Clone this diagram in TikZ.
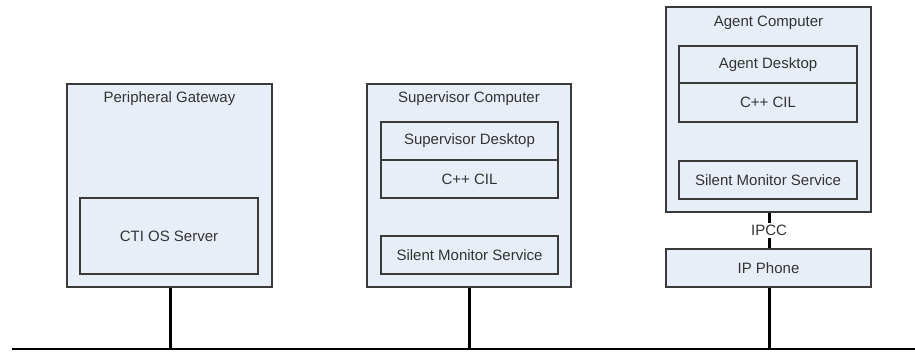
\documentclass[tikz,border=0pt]{standalone}
\usepackage{fontspec}
\setmainfont{Liberation Sans}
\definecolor{boxfill}{HTML}{E8EEF7}
\definecolor{boxline}{HTML}{3A3A3A}
\definecolor{txt}{HTML}{333333}
\begin{document}
\begin{tikzpicture}[x=1pt,y=-1pt,
  box/.style={draw=boxline,fill=boxfill,line width=1.2pt,inner sep=0pt,
    text=txt,font=\fontsize{15}{17}\selectfont},
  lbl/.style={text=txt,font=\fontsize{15}{17}\selectfont,inner sep=1pt},
  wire/.style={line width=3pt,black},
  bus/.style={line width=2pt,black}]
\useasboundingbox (0,0) rectangle (915,351);
% Peripheral Gateway
\node[box,minimum width=205pt,minimum height=203pt] (pg) at (169.5,185.5) {};
\node[lbl] (pgt) at (169.5,99) {Peripheral Gateway};
\node[box,minimum width=178pt,minimum height=76pt] (cti) at (169,236) {CTI OS Server};
% Supervisor Computer
\node[box,minimum width=204pt,minimum height=203pt] (sc) at (469,185.5) {};
\node[lbl] (sct) at (469,99) {Supervisor Computer};
\node[box,minimum width=177pt,minimum height=38pt] (sd) at (469.5,141) {Supervisor Desktop};
\node[box,minimum width=177pt,minimum height=38pt] (scil) at (469.5,179) {C++ CIL};
\node[box,minimum width=177pt,minimum height=38pt] (ssm) at (469.5,255) {Silent Monitor Service};
% Agent Computer
\node[box,minimum width=205pt,minimum height=205pt] (ac) at (768.5,109.5) {};
\node[lbl] (act) at (768.5,23) {Agent Computer};
\node[box,minimum width=178pt,minimum height=37pt] (ad) at (768,64.5) {Agent Desktop};
\node[box,minimum width=178pt,minimum height=39pt] (acil) at (768,102.5) {C++ CIL};
\node[box,minimum width=178pt,minimum height=38pt] (asm) at (768,180) {Silent Monitor Service};
% IP Phone
\node[box,minimum width=205pt,minimum height=38pt] (ip) at (768.5,268) {IP Phone};
% bus
\coordinate (bl) at (12,349);
\coordinate (br) at (915,349);
\coordinate (b1) at (170,349);
\coordinate (b2) at (469,349);
\coordinate (b3) at (769,349);
\draw[bus] (bl) -- (br);
\draw[wire] (pg.south -| b1) -- (b1);
\draw[wire] (sc.south -| b2) -- (b2);
\draw[wire] (ip.south -| b3) -- (b3);
\draw[wire] (ac.south -| b3) -- (ip.north -| b3)
  node[midway,fill=white,lbl,inner sep=2pt] (ipcc) {IPCC};
\end{tikzpicture}
\end{document}
